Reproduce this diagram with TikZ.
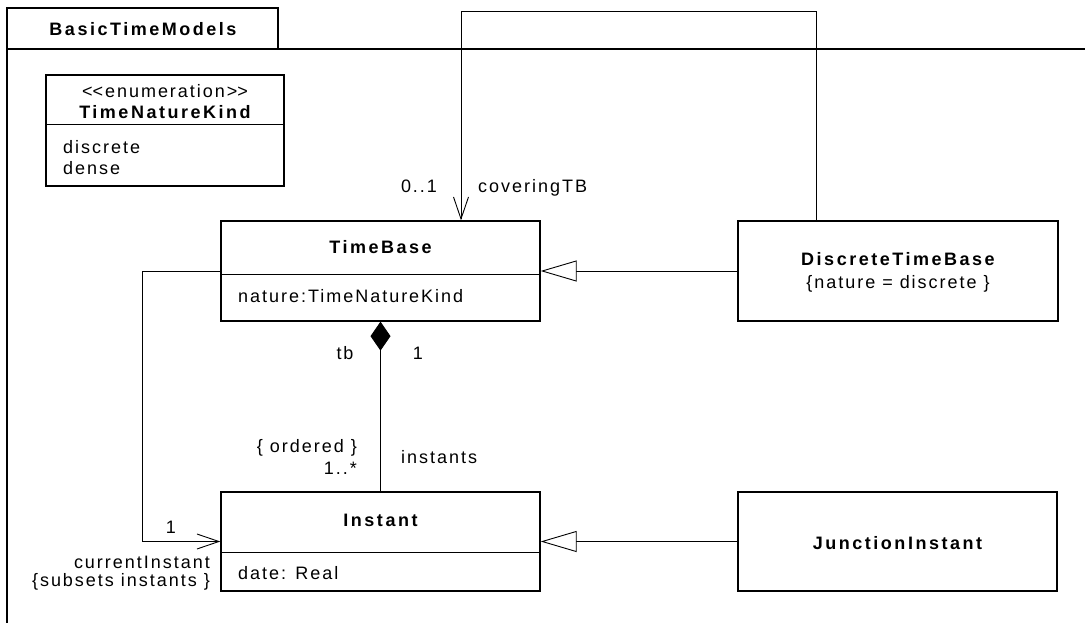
\documentclass[tikz,border=0pt]{standalone}
\usepackage{fontspec}
\setmainfont{Liberation Sans}[LetterSpace=11]
\newfontfamily\boldface{Liberation Sans}[LetterSpace=14]
\usetikzlibrary{arrows.meta,calc}
\begin{document}
\begin{tikzpicture}[x=1pt,y=-1pt,
  every node/.style={font=\fontsize{18}{22}\selectfont, inner sep=0pt, text height=13pt, text depth=0pt},
  cls/.style={draw, line width=1.3pt, rectangle, inner sep=0pt},
  sep/.style={line width=1pt},
  bld/.style={font=\fontsize{18}{22}\boldface\bfseries},
  conn/.style={line width=0.9pt},
  assoc/.style={conn, -{Straight Barb[length=22pt,width=15pt,line width=0.9pt]}},
  gen/.style={conn, -{Triangle[open,length=36pt,width=21pt,fill=white,line width=0.9pt]}},
  comp/.style={conn, {Diamond[length=29pt,width=20pt,fill=black]}-}
]
\useasboundingbox (0,0) rectangle (1085,623);
% package frame
\draw[line width=1.3pt] (7,623) -- (7,8) -- (278,8) -- (278,49);
\draw[line width=1.3pt] (7,49) -- (1085,49);
\node[bld] (pkg) at (143,29) {BasicTimeModels};

% enumeration
\node[cls, minimum width=238pt, minimum height=111pt] (tnk) at (165,130.5) {};
\node (tnkst) at (165,91) {<\kern0pt<enumeration>\kern0pt>};
\node[bld] (tnkname) at (165,112) {TimeNatureKind};
\draw[sep] (tnk.west |- 0,125) -- (tnk.east |- 0,125);
\node[anchor=west] (lit1) at (63,147) {discrete};
\node[anchor=west] (lit2) at (63,168) {dense};

% TimeBase
\node[cls, minimum width=319pt, minimum height=100pt] (tb) at (380.5,271) {};
\node[bld] (tbname) at (380.5,247) {TimeBase};
\draw[sep] (tb.west |- 0,274) -- (tb.east |- 0,274);
\node[anchor=west] (tbattr) at (238,296) {nature:TimeNatureKind};

% DiscreteTimeBase
\node[cls, minimum width=320pt, minimum height=100pt] (dtb) at (898,271) {};
\node[bld] (dtbname) at (898,259) {DiscreteTimeBase};
\node (dtbc) at (898,282) {\{nature = discrete \}};

% Instant
\node[cls, minimum width=319pt, minimum height=99pt] (inst) at (380.5,541.5) {};
\node[bld] (instname) at (380.5,520) {Instant};
\draw[sep] (inst.west |- 0,552) -- (inst.east |- 0,552);
\node[anchor=west] (instattr) at (238,573) {date: Real};

% JunctionInstant
\node[cls, minimum width=319pt, minimum height=99pt] (ji) at (897.5,541.5) {};
\node[bld] (jiname) at (897.5,543) {JunctionInstant};

% connectors
\draw[assoc] ([xshift=79pt]dtb.north west) -- ++(0,-209) -| ([xshift=80.5pt]tb.north);
\draw[gen] (dtb.west) -- (tb.east |- dtb.west);
\draw[gen] (ji.west) -- (inst.east |- ji.west);
\draw[comp] (tb.south) -- (inst.north);
\draw[assoc] (tb.west) -- ++(-78,0) |- (inst.west);

% labels
\node (l01) at (419,186) {0..1};
\node[anchor=west] (lcov) at (478,186) {coveringTB};
\node (ltb) at (345,353) {tb};
\node (lone) at (418,353) {1};
\node[anchor=east] (lord) at (357,446) {\{ ordered \}};
\node[anchor=east] (lmany) at (357,468) {1..*};
\node[anchor=west] (linst) at (401,457) {instants};
\node (lone2) at (171,527) {1};
\node[anchor=east] (lcur) at (210,562) {currentInstant};
\node[anchor=east] (lsub) at (210,580) {\{subsets instants \}};
\end{tikzpicture}
\end{document}
